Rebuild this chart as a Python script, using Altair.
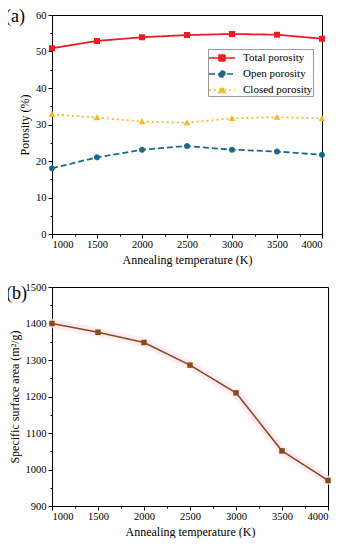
import altair as alt
import pandas as pd

FONT = "Liberation Serif"

# ---- data ----
temps = [1000, 1500, 2000, 2500, 3000, 3500, 4000]
total_por = [50.9, 52.9, 53.9, 54.5, 54.8, 54.6, 53.5]
open_por = [18.0, 21.0, 23.1, 24.1, 23.1, 22.6, 21.7]
closed_por = [32.8, 31.9, 30.8, 30.5, 31.7, 32.0, 31.7]
ssa = [1400, 1376, 1348, 1286, 1210, 1051, 970]

series_names = ["Total porosity", "Open porosity", "Closed porosity"]
series_colors = ["#ee1c25", "#1b6a8c", "#f7b924"]
series_dash = [[1, 0], [6, 3], [2, 3]]
# marker paths carrying a zero-area stub line (only visible when stroked, i.e. in the legend)
series_shapes = [
    "M-1.625,0L1.625,0M-0.375,-0.375L0.375,-0.375L0.375,0.375L-0.375,0.375Z",
    "M-1.625,0L1.625,0M-0.38,0A0.38,0.38,0,1,0,0.38,0A0.38,0.38,0,1,0,-0.38,0Z",
    "M-1.625,0L1.625,0M-0.43,0.33L0.43,0.33L0,-0.41Z",
]

x_major = [1000, 1500, 2000, 2500, 3000, 3500, 4000]
x_minor = [1250, 1750, 2250, 2750, 3250, 3750]
ya_major = [0, 10, 20, 30, 40, 50, 60]
ya_minor = [5, 15, 25, 35, 45, 55]
yb_major = [900, 1000, 1100, 1200, 1300, 1400, 1500]
yb_minor = [950, 1050, 1150, 1250, 1350, 1450]

rows = []
for name, vals in zip(series_names, [total_por, open_por, closed_por]):
    for t, v in zip(temps, vals):
        rows.append({"T": t, "value": v, "series": name})
df_a = pd.DataFrame(rows)
df_b = pd.DataFrame({"T": temps, "ssa": ssa})

legend = alt.Legend(
    title=None, orient="none", legendX=156, legendY=34,
    symbolSize=256, symbolStrokeWidth=1.6, symbolOffset=5,
    labelFont=FONT, labelFontSize=11, labelOffset=12,
    strokeColor="#9a9a9a", fillColor="white", padding=0, rowPadding=-6,
)

xscale = alt.Scale(domain=[1000, 4000], nice=False, zero=False)
ya_scale = alt.Scale(domain=[0, 60], nice=False)
yb_scale = alt.Scale(domain=[900, 1500], nice=False, zero=False)

def major_x(title):
    return alt.Axis(values=x_major, title=title, tickSize=4, labelPadding=1,
                    titlePadding=5, format="d", orient="bottom")

minor_x = alt.Axis(values=x_minor, title=None, tickSize=2, labels=False,
                   domain=False, orient="bottom")

def major_y(vals, title):
    return alt.Axis(values=vals, title=title, tickSize=4, labelPadding=2,
                    titlePadding=4, format="d", orient="left")

def minor_y(vals):
    return alt.Axis(values=vals, title=None, tickSize=2, labels=False,
                    domain=False, orient="left")

color_scale = alt.Scale(domain=series_names, range=series_colors)
dash_scale = alt.Scale(domain=series_names, range=series_dash)
shape_scale = alt.Scale(domain=series_names, range=series_shapes)

base_a = alt.Chart(df_a)
lines_a = base_a.mark_line(strokeWidth=1.8, strokeJoin="round").encode(
    x=alt.X("T:Q", scale=xscale, axis=major_x("Annealing temperature (K)")),
    y=alt.Y("value:Q", scale=ya_scale, axis=major_y(ya_major, "Porosity (%)")),
    color=alt.Color("series:N", scale=color_scale, sort=series_names, legend=legend),
    strokeDash=alt.StrokeDash("series:N", scale=dash_scale, sort=series_names, legend=legend),
)
points_a = base_a.mark_point(filled=True, opacity=1, size=256, strokeWidth=0).encode(
    x=alt.X("T:Q", scale=xscale, axis=minor_x),
    y=alt.Y("value:Q", scale=ya_scale, axis=minor_y(ya_minor)),
    color=alt.Color("series:N", scale=color_scale, sort=series_names, legend=legend),
    shape=alt.Shape("series:N", scale=shape_scale, sort=series_names, legend=legend),
)
label_a = alt.Chart(pd.DataFrame({"lab": ["(a)"]})).mark_text(
    font=FONT, fontSize=18, align="left", baseline="alphabetic", color="black"
).encode(text="lab:N", x=alt.value(-47), y=alt.value(7))

top = alt.layer(lines_a, points_a, label_a).resolve_axis(
    x="independent", y="independent"
).properties(width=270, height=219)

base_b = alt.Chart(df_b)
glow_b = base_b.mark_line(strokeWidth=9, color="#fde6f4", opacity=0.8,
                          strokeJoin="round", strokeCap="round").encode(
    x=alt.X("T:Q", scale=xscale, axis=major_x("Annealing temperature (K)")),
    y=alt.Y("ssa:Q", scale=yb_scale,
            axis=major_y(yb_major, "Specific surface area (m\u00b2/g)")),
)
line_b = base_b.mark_line(strokeWidth=1.6, color="#8a4a16", strokeJoin="round").encode(
    x=alt.X("T:Q", scale=xscale, axis=None),
    y=alt.Y("ssa:Q", scale=yb_scale, axis=None),
)
points_b = base_b.mark_point(filled=True, opacity=1, size=30, shape="square",
                             color="#8a4a16").encode(
    x=alt.X("T:Q", scale=xscale, axis=minor_x),
    y=alt.Y("ssa:Q", scale=yb_scale, axis=minor_y(yb_minor)),
)
label_b = alt.Chart(pd.DataFrame({"lab": ["(b)"]})).mark_text(
    font=FONT, fontSize=18, align="left", baseline="alphabetic", color="black"
).encode(text="lab:N", x=alt.value(-46), y=alt.value(12))

bottom = alt.layer(glow_b, line_b, points_b, label_b).resolve_axis(
    x="independent", y="independent"
).properties(width=276, height=219)

chart = alt.concat(top, bottom, columns=1, align="none", spacing=15).properties(
    padding={"left": -4, "top": -1, "right": 0, "bottom": 0},
).configure_axis(
    labelFont=FONT, titleFont=FONT, labelFontSize=10.5, titleFontSize=12,
    titleFontWeight="normal", labelColor="black", titleColor="black",
    domainColor="black", tickColor="black", grid=False,
).configure_view(stroke="black", strokeWidth=1).configure_legend(
    labelFont=FONT, labelColor="black"
)

chart.save("out.html", embed_options={"renderer": "svg", "actions": False})
